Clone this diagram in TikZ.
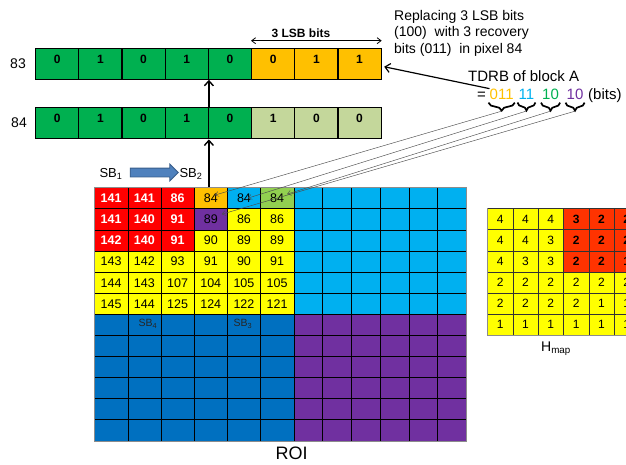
\documentclass[tikz,border=0pt]{standalone}
\usepackage{fontspec}
\setmainfont{Liberation Sans}
\usetikzlibrary{arrows.meta,decorations.pathreplacing,shapes.arrows,calc}

\definecolor{bitgreen}{HTML}{00B050}
\definecolor{bitorange}{HTML}{FFC000}
\definecolor{bitpale}{HTML}{C4D79B}
\definecolor{roired}{HTML}{FF0000}
\definecolor{roiyellow}{HTML}{FFFF00}
\definecolor{roicyan}{HTML}{00B0F0}
\definecolor{roilime}{HTML}{92D050}
\definecolor{roipurple}{HTML}{7030A0}
\definecolor{roiblue}{HTML}{0070C0}
\definecolor{hmy}{HTML}{FFFF00}
\definecolor{hmr}{HTML}{FF3300}
\definecolor{blockfill}{HTML}{4F81BD}
\definecolor{blockline}{HTML}{385D8A}

\begin{document}
\begin{tikzpicture}[x=1pt,y=-1pt,
  bitcell/.style={draw=black, line width=1.1pt, minimum width=43.2pt, minimum height=31pt,
    inner sep=0pt, anchor=north west, font=\fontsize{12}{12}\selectfont\bfseries,
    text height=8.6pt, text depth=9.6pt},
  roicell/.style={draw=black, line width=0.5pt, minimum height=21.1pt, inner sep=0pt,
    anchor=north west, font=\fontsize{12.5}{12.5}\selectfont, text height=9pt, text depth=0pt},
  hmcell/.style={draw=black!80, line width=0.5pt, minimum width=25.3pt, minimum height=21.1pt,
    inner sep=0pt, anchor=north west, font=\fontsize{12}{12}\selectfont, text height=8.6pt, text depth=0pt},
  bigarrow/.style={line width=1.4pt, -{Straight Barb[length=5pt,width=9pt]}},
  link/.style={draw=black!70, line width=0.45pt, -{Straight Barb[length=3.5pt,width=5pt]}},
  tbrace/.style={decorate, decoration={brace, mirror, amplitude=8pt}, line width=1.7pt},
  caption/.style={inner sep=0pt},
  tdrb/.style={inner sep=0pt, anchor=base west, font=\fontsize{15}{15}\selectfont},
]
\useasboundingbox (0,0) rectangle (626,464);
\clip (0,0) rectangle (626,464);

% ---- the two pixel bit strings ----
\foreach \v/\f [count=\i from 0] in {0/bitgreen,1/bitgreen,0/bitgreen,1/bitgreen,0/bitgreen,0/bitorange,1/bitorange,1/bitorange}
  \node[bitcell, fill=\f] (b83-\i) at (35+\i*43.2, 47.7) {\v};
\foreach \v/\f [count=\i from 0] in {0/bitgreen,1/bitgreen,0/bitgreen,1/bitgreen,0/bitgreen,1/bitpale,0/bitpale,0/bitpale}
  \node[bitcell, fill=\f] (b84-\i) at (35+\i*43.2, 107.3) {\v};
\node[caption, anchor=east, font=\fontsize{14}{14}\selectfont] (lab83) at (26, 63.2) {83};
\node[caption, anchor=east, font=\fontsize{14}{14}\selectfont] (lab84) at (27, 122.8) {84};

% 3 LSB bits span
\draw[line width=0.8pt, {Straight Barb[length=4pt,width=6pt]}-{Straight Barb[length=4pt,width=6pt]}]
  ([yshift=7pt]b83-5.north west) -- ([yshift=7pt]b83-7.north east);
\node[caption, font=\fontsize{12}{12}\selectfont\bfseries] (lsb) at (301, 33) {3 LSB bits};

% ---- ROI block ----
% top-left quadrant with pixel values
\foreach \r/\cells in {
  0/{roired/white/{\bfseries 141},roired/white/{\bfseries 141},roired/white/{\bfseries 86},bitorange/black/84,roicyan/black/84,roilime/black/84},
  1/{roired/white/{\bfseries 141},roired/white/{\bfseries 140},roired/white/{\bfseries 91},roipurple/black/89,roiyellow/black/86,roiyellow/black/86},
  2/{roired/white/{\bfseries 142},roired/white/{\bfseries 140},roired/white/{\bfseries 91},roiyellow/black/90,roiyellow/black/89,roiyellow/black/89},
  3/{roiyellow/black/143,roiyellow/black/142,roiyellow/black/93,roiyellow/black/91,roiyellow/black/90,roiyellow/black/91},
  4/{roiyellow/black/144,roiyellow/black/143,roiyellow/black/107,roiyellow/black/104,roiyellow/black/105,roiyellow/black/105},
  5/{roiyellow/black/145,roiyellow/black/144,roiyellow/black/125,roiyellow/black/124,roiyellow/black/122,roiyellow/black/121}}
{
  \foreach \f/\tc/\t [count=\c from 0] in \cells
    \node[roicell, minimum width=33.2pt, fill=\f, text=\tc] (g-\r-\c) at (94.3+\c*33.2, 187.3+\r*21.1) {\t};
}
% remaining quadrants
\foreach \r in {0,...,5}
  \foreach \c in {6,...,11}
    \node[roicell, minimum width=28.75pt, fill=roicyan] (g-\r-\c) at (293.5+\c*28.75-172.5, 187.3+\r*21.1) {};
\foreach \r in {6,...,11}
  \foreach \c in {0,...,5}
    \node[roicell, minimum width=33.2pt, fill=roiblue] (g-\r-\c) at (94.3+\c*33.2, 187.3+\r*21.1) {};
\foreach \r in {6,...,11}
  \foreach \c in {6,...,11}
    \node[roicell, minimum width=28.75pt, fill=roipurple] (g-\r-\c) at (293.5+\c*28.75-172.5, 187.3+\r*21.1) {};
\draw[black!45, line width=0.8pt] (g-0-0.north west) rectangle (g-11-11.south east);

\node[caption, anchor=base west, font=\fontsize{10.5}{10.5}\selectfont, text=black!85] (sb4) at (138.3, 326.7) {SB\textsubscript{4}};
\node[caption, anchor=base west, font=\fontsize{10.5}{10.5}\selectfont, text=black!85] (sb3) at (233.3, 326.7) {SB\textsubscript{3}};
\node[caption, font=\fontsize{18}{18}\selectfont] (roi) at (291.7, 453) {ROI};

% sub-block order
\node[caption, anchor=base west, font=\fontsize{13}{13}\selectfont] (sb1) at (99.3, 177.3) {SB\textsubscript{1}};
\node[caption, anchor=base west, font=\fontsize{13}{13}\selectfont] (sb2) at (179.3, 177.3) {SB\textsubscript{2}};
\node[single arrow, fill=blockfill, draw=blockline, line width=0.8pt, inner sep=0pt, inner ysep=4pt,
  single arrow head extend=4pt, minimum width=16pt, minimum height=48pt] (blk) at (152, 172.5) {};

% pixel 84 goes up into the bit strings
\draw[bigarrow] (b84-3.south east |- g-0-3.north) -- (b84-3.south east);
\draw[bigarrow] (b84-3.north east) -- (b83-3.south east);

% ---- recovery bits ----
\node[caption, anchor=north west, align=left, font=\fontsize{14}{16.5}\selectfont] (note) at (394, 10)
  {Replacing 3 LSB bits\\(100)\ \ with 3 recovery\\bits (011)\ \ in pixel 84};
\node[tdrb] (tdrbA) at (468, 81.7) {TDRB of block A};
\node[tdrb] (eq) at (477, 99.3) {=};
\node[tdrb, text=bitorange] (d1) at (489.5, 99.3) {011};
\node[tdrb, text=roicyan] (d2) at (518.5, 99.3) {11};
\node[tdrb, text=bitgreen] (d3) at (542, 99.3) {10};
\node[tdrb, text=roipurple] (d4) at (566.5, 99.3) {10};
\node[tdrb] (bits) at (588, 99.3) {(bits)};

\foreach \d in {1,2,3,4} {
  \draw[tbrace] ([xshift=-1pt,yshift=-3pt]d\d.south west) -- ([xshift=1pt,yshift=-3pt]d\d.south east);
  \coordinate (t\d) at ([yshift=-11.5pt]d\d.south);
}

\draw[bigarrow, line width=1.2pt] (d1.north west) -- ([shift={(2.5pt,-3pt)}]b83-7.east);

\draw[link] (t1) -- ([shift={(4pt,3pt)}]g-0-3.center);
\draw[link] (t2) -- ([shift={(4pt,0pt)}]g-0-4.center);
\draw[link] (t3) -- ([shift={(10pt,4pt)}]g-0-5.center);
\draw[link] (t4) -- ([shift={(11pt,5pt)}]g-1-3.center);

% ---- H map ----
\foreach \r/\cells in {
  0/{hmy/4,hmy/4,hmy/4,hmr/{\bfseries 3},hmr/{\bfseries 2},hmr/{\bfseries 2}},
  1/{hmy/4,hmy/4,hmy/3,hmr/{\bfseries 2},hmr/{\bfseries 2},hmr/{\bfseries 2}},
  2/{hmy/4,hmy/3,hmy/3,hmr/{\bfseries 2},hmr/{\bfseries 2},hmr/{\bfseries 1}},
  3/{hmy/2,hmy/2,hmy/2,hmy/2,hmy/2,hmy/2},
  4/{hmy/2,hmy/2,hmy/2,hmy/2,hmy/1,hmy/1},
  5/{hmy/1,hmy/1,hmy/1,hmy/1,hmy/1,hmy/1}}
{
  \foreach \f/\t [count=\c from 0] in \cells
    \node[hmcell, fill=\f] (h-\r-\c) at (487.3+\c*25.3, 208.3+\r*21.1) {\t};
}
\draw[black!45, line width=0.8pt] (h-0-0.north west) -- (h-5-0.south west) -- (h-5-5.south east);
\node[caption, anchor=base, font=\fontsize{14}{14}\selectfont] (hmlab) at (556, 351) {H\textsubscript{map}};
\end{tikzpicture}
\end{document}
